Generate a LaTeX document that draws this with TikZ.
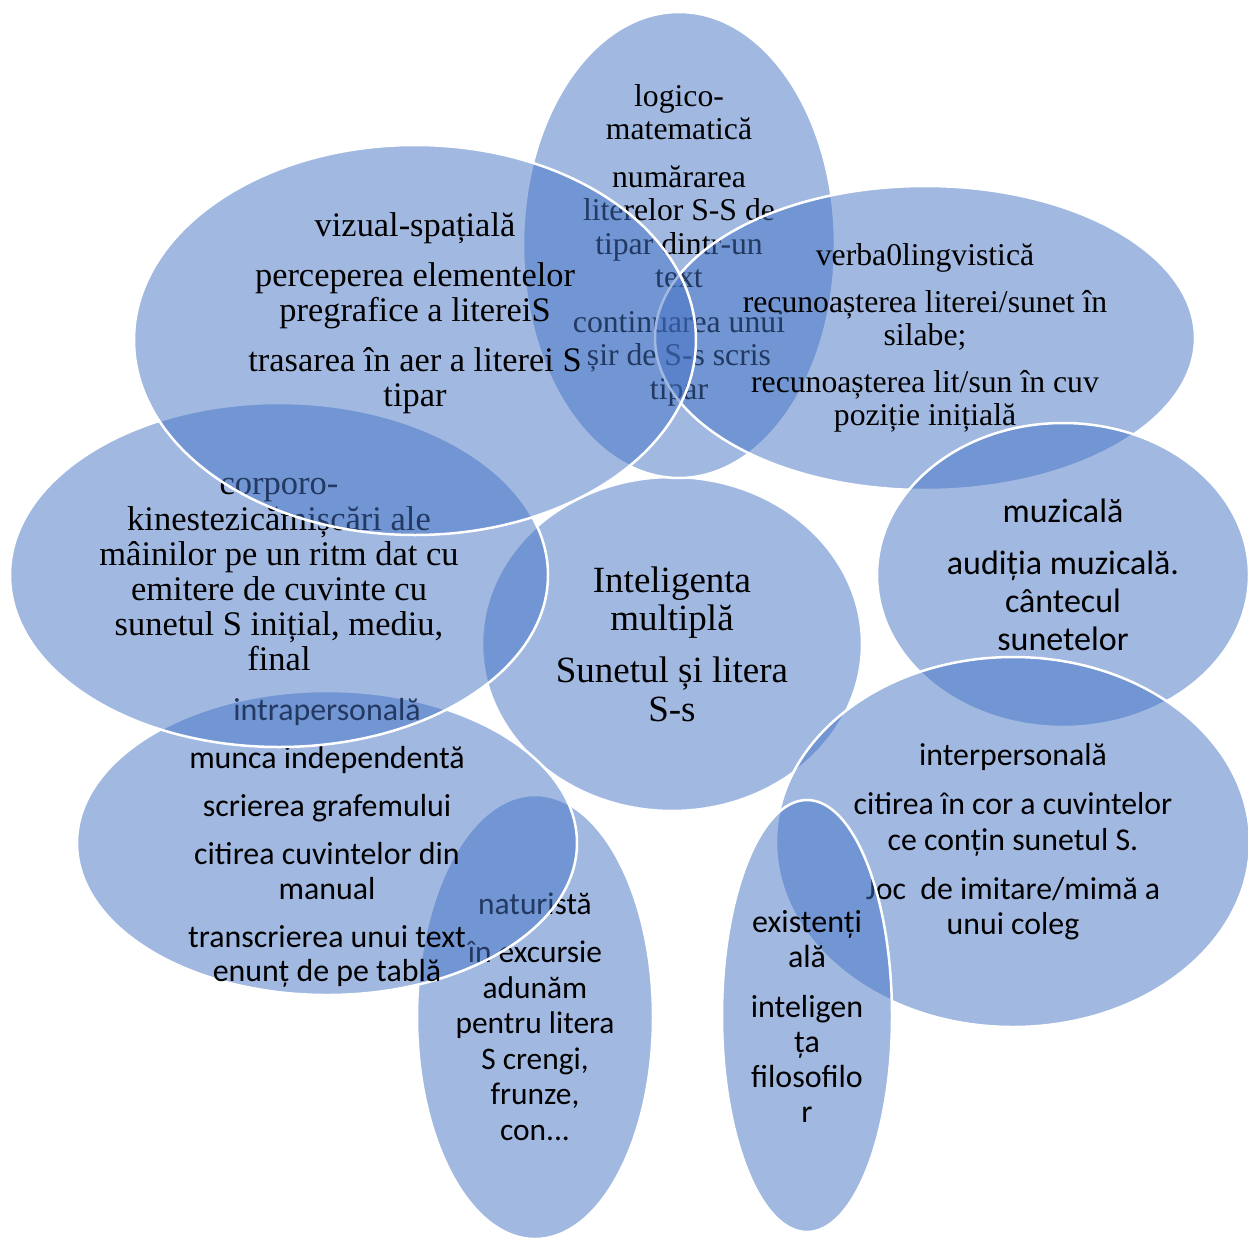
\documentclass[tikz,border=0pt]{standalone}
\usepackage{fontspec}
\setmainfont{Liberation Serif}
\newfontfamily\calibri{Carlito}
\usetikzlibrary{shapes.geometric}
\definecolor{cPetal}{HTML}{4472C4}
\definecolor{cInk}{HTML}{000000}

\begin{document}
\begin{tikzpicture}[
  x=1pt, y=-1pt,
  line join=round,
  petal/.style={ellipse, draw=white, line width=2.5pt, fill=cPetal,
    fill opacity=0.5, inner sep=0pt, outer sep=0pt},
  romanlab/.style 2 args={align=center, text=cInk, inner sep=0pt,
    font=\fontsize{#1}{#2}\selectfont},
  sanslab/.style 2 args={align=center, text=cInk, inner sep=0pt,
    font=\calibri\fontsize{#1}{#2}\selectfont},
]

\useasboundingbox (0,0) rectangle (1248,1239);

% ---- Hub (drawn first, petals overlap it) ----
\node[petal, minimum width=380pt, minimum height=334pt] (hub) at (672,644) {};
\node[romanlab={37}{38.5}] (hubText) at (hub.center)
  {Inteligenta\\multiplă\\[13.5pt]Sunetul și litera\\S-s};

% ---- Petals, clockwise from the top ----
\node[petal, minimum width=312pt, minimum height=466pt] (logico) at (679,245) {};
\node[romanlab={31.7}{33.5}] (logicoText) at (logico.center)
  {logico-\\matematică\\[14pt]numărarea\\literelor S-S de\\tipar dintr-un\\text\\[11pt]%
   continuarea unui\\șir de S-s scris\\tipar};

\node[petal, minimum width=540pt, minimum height=304pt] (verbal) at (925,338) {};
\node[romanlab={31.7}{33.5}] (verbalText) at (verbal.center)
  {verba0lingvistică\\[13pt]recunoașterea literei/sunet în\\silabe;\\[13pt]%
   recunoașterea lit/sun în cuv\\poziție inițială};

\node[petal, minimum width=372pt, minimum height=304pt] (muzical) at (1063,575) {};
\node[sanslab={34}{38}] (muzicalText) at (muzical.center)
  {muzicală\\[14pt]audiția muzicală.\\cântecul\\sunetelor};

\node[petal, minimum width=474pt, minimum height=370pt] (interpers) at (1013,842) {};
\node[sanslab={31.8}{35.5}] (interpersText) at (interpers.center)
  {interpersonală\\[13.5pt]citirea în cor a cuvintelor\\ce conțin sunetul S.\\[13.5pt]%
   Joc\ \ de imitare/mimă a\\unui coleg};

\node[petal, minimum width=170pt, minimum height=432pt] (existent) at (807,1016) {};
\node[sanslab={32}{35}] (existentText) at (existent.center)
  {existenți\\ală\\[15pt]inteligen\\ța\\filosofilo\\r};

\node[petal, minimum width=236pt, minimum height=444pt] (natur) at (535,1017) {};
\node[sanslab={31.4}{35.5}] (naturText) at (natur.center)
  {naturistă\\[12.5pt]în excursie\\adunăm\\pentru litera\\S crengi,\\frunze,\\con...};

\node[petal, minimum width=500pt, minimum height=304pt] (intra) at (327,843) {};
\node[sanslab={31.9}{34.5}] (intraText) at (intra.center)
  {intrapersonală\\[13.5pt]munca independentă\\[13.5pt]scrierea grafemului\\[13.5pt]%
   citirea cuvintelor din\\manual\\[13.5pt]transcrierea unui text\\enunț de pe tablă};

\node[petal, minimum width=538pt, minimum height=344pt] (corporo) at (279,575) {};
\node[romanlab={34.5}{35.2}] (corporoText) at (corporo.center)
  {corporo-\\kinestezicămișcări ale\\mâinilor pe un ritm dat cu\\emitere de cuvinte cu\\%
   sunetul S inițial, mediu,\\final};

\node[petal, minimum width=562pt, minimum height=390pt] (vizual) at (415,340) {};
\node[romanlab={34.4}{35}] (vizualText) at ([yshift=27pt]vizual.center)
  {vizual-spațială\\[15pt]perceperea elementelor\\pregrafice a litereiS\\[15pt]%
   trasarea în aer a literei S\\tipar};

\end{tikzpicture}
\end{document}
